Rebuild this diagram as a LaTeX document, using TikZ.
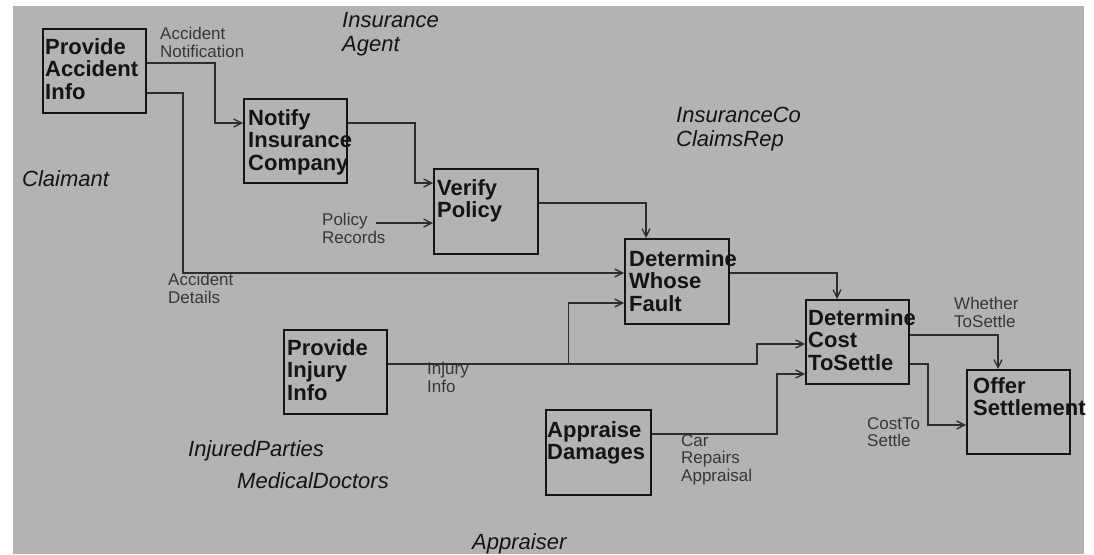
\documentclass[tikz,border=0pt]{standalone}
\usepackage{fontspec}
\setmainfont{Liberation Sans}
\usetikzlibrary{calc,arrows.meta}
\definecolor{panel}{RGB}{179,179,179}
\definecolor{ink}{RGB}{20,20,20}
\definecolor{wire}{RGB}{45,45,45}
\tikzset{
  proc/.style={draw=ink, line width=2.4pt, anchor=north west, minimum width=103pt, minimum height=84pt, inner sep=0pt},
  ptext/.style={anchor=north west, inner sep=0pt, align=left, text=ink,
    font={\fontsize{22}{22.5}\selectfont\bfseries}},
  flowlabel/.style={anchor=north west, inner sep=0pt, align=left, text=ink!85,
    font={\fontsize{17}{17.5}\selectfont}},
  rolelabel/.style={anchor=north west, inner sep=0pt, align=left, text=ink,
    font={\fontsize{22}{24}\selectfont\itshape}},
  flow/.style={draw=wire, line width=1.4pt, -{Straight Barb[length=8pt,width=8pt,line width=1.3pt]}},
  link/.style={draw=wire, line width=1.4pt}
}
\begin{document}
\begin{tikzpicture}[x=1pt,y=-1pt]
\useasboundingbox (0,0) rectangle (1094,554);
\fill[white] (0,0) rectangle (1094,554);
\fill[panel] (13,6) rectangle (1084,554);

% activity boxes
\node[proc] (pai) at (42,28) {};
\node[proc] (nic) at (243,98) {};
\node[proc, minimum width=104pt, minimum height=85pt] (vp) at (433,168) {};
\node[proc, minimum width=104pt, minimum height=85pt] (dwf) at (624,238) {};
\node[proc] (dcts) at (805,299) {};
\node[proc] (os) at (966,369) {};
\node[proc] (pii) at (283,329) {};
\node[proc, minimum width=105pt, minimum height=85pt] (ad) at (545,409) {};

% box titles
\node[ptext] (paiT) at (45,38) {Provide\\Accident\\Info};
\node[ptext] (nicT) at (248,109) {Notify\\Insurance\\Company};
\node[ptext] (vpT) at (437,179) {Verify\\Policy};
\node[ptext] (dwfT) at (629,250) {Determine\\Whose\\Fault};
\node[ptext] (dctsT) at (808,309) {Determine\\Cost\\ToSettle};
\node[ptext] (osT) at (973,377) {Offer\\Settlement};
\node[ptext] (piiT) at (287,339) {Provide\\Injury\\Info};
\node[ptext] (adT) at (547,421) {Appraise\\Damages};

% roles
\node[rolelabel] (r1) at (342,12) {Insurance\\Agent};
\node[rolelabel] (r2) at (676,107) {InsuranceCo\\ClaimsRep};
\node[rolelabel] (r3) at (22,170) {Claimant};
\node[rolelabel] (r4) at (188,440) {InjuredParties};
\node[rolelabel] (r5) at (237,472) {MedicalDoctors};
\node[rolelabel] (r6) at (472,533) {Appraiser};

% flow labels
\node[flowlabel] (l1) at (160,27) {Accident\\Notification};
\node[flowlabel] (l2) at (168,273) {Accident\\Details};
\node[flowlabel] (l3) at (322,213) {Policy\\Records};
\node[flowlabel] (l4) at (427,362) {Injury\\Info};
\node[flowlabel] (l5) at (681,434) {Car\\Repairs\\Appraisal};
\node[flowlabel] (l6) at (954,297) {Whether\\ToSettle};
\node[flowlabel] (l7) at (867,417) {CostTo\\Settle};

\coordinate (policySrc) at (376,223);

% connectors
\draw[flow] ($(pai.north east)+(0,35)$) -| ($(nic.north west)+(-28,25)$) -- ($(nic.north west)+(0,25)$);
\draw[flow] ($(pai.north east)+(0,65)$) -| ($(dwf.north west)+(-441,35)$) -- ($(dwf.north west)+(0,35)$);
\draw[flow] ($(nic.north east)+(0,25)$) -| ($(vp.north west)+(-18,15)$) -- ($(vp.north west)+(0,15)$);
\draw[flow] (policySrc) -- ($(vp.north west)+(0,55)$);
\draw[flow] ($(vp.north east)+(0,35)$) -| ($(dwf.north west)+(22,0)$);
\draw[flow] ($(dwf.north east)+(0,35)$) -| ($(dcts.north west)+(32,0)$);
\draw[flow] ($(pii.north east)+(0,35)$) -| ($(dcts.north west)+(-48,45)$) -- ($(dcts.north west)+(0,45)$);
\draw[flow] ($(pii.north east)+(180,35)$) |- ($(dwf.north west)+(0,65)$);
\draw[flow] ($(ad.north east)+(0,25)$) -| ($(dcts.north west)+(-28,75)$) -- ($(dcts.north west)+(0,75)$);
\draw[flow] ($(dcts.north east)+(0,36)$) -| ($(os.north west)+(32,0)$);
\draw[flow] ($(dcts.north east)+(0,65)$) -| ($(os.north west)+(-38,56)$) -- ($(os.north west)+(0,56)$);
\end{tikzpicture}
\end{document}
